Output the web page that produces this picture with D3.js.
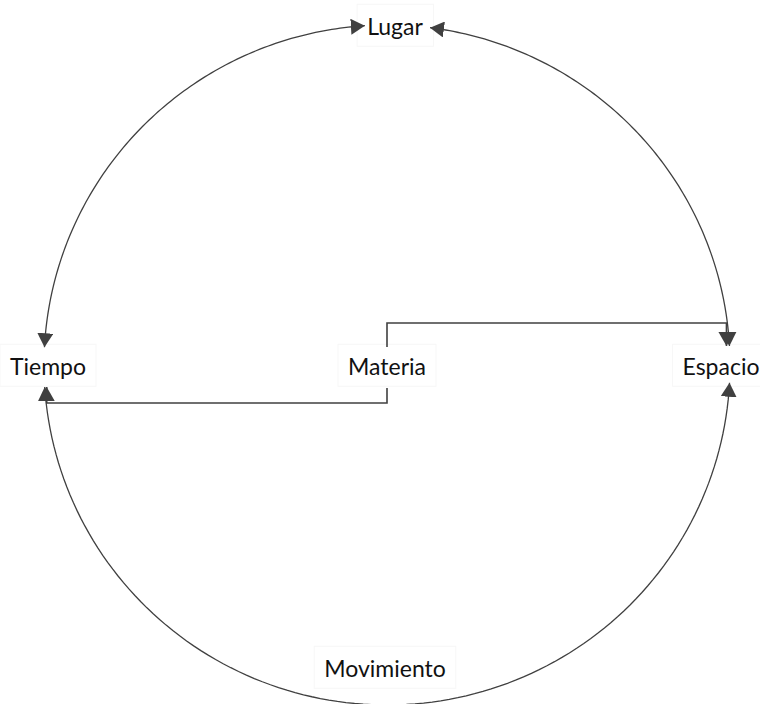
<!DOCTYPE html>
<html>
<head>
<meta charset="utf-8">
<script src="https://cdn.jsdelivr.net/npm/d3@7"></script>
<style>
  body { margin: 0; background: #fff; }
  text { font-family: Lato, "Open Sans", sans-serif; fill: #111; }
</style>
</head>
<body>
<div id="chart"></div>
<script>
// nodes sitting on the ring (angle in degrees, 0 = right, clockwise)
const ringNodes  = ["Espacio", "Movimiento", "Tiempo", "Lugar"];
const ringAngles = [0, 90, 180, 270];
const centerNode = "Materia";

// curved arrows along the ring (double headed), from / to angle in degrees
const arcFrom = [183, 277.2, 176.3];
const arcTo   = [266.3, 356.8, 3.0];

// elbow arrows leaving the centre node
const elbowTargets = ["Espacio", "Tiempo"];

function render(){
  const W = 760, H = 704;
  const svg = d3.select("#chart").append("svg")
      .attr("width", W).attr("height", H);

  // ring scales: unit circle -> page
  const x = d3.scaleLinear().domain([-1, 1]).range([44, 730]);
  const y = d3.scaleLinear().domain([-1, 1]).range([25, 705]);
  const rad = d => d * Math.PI / 180;
  const ringPt = a => [x(Math.cos(rad(a))), y(Math.sin(rad(a)))];

  const ink = "#404040";

  svg.append("defs").append("marker")
      .attr("id", "arrow")
      .attr("viewBox", "0 0 14 16")
      .attr("refX", 14).attr("refY", 8)
      .attr("markerWidth", 14).attr("markerHeight", 16)
      .attr("markerUnits", "userSpaceOnUse")
      .attr("orient", "auto-start-reverse")
    .append("path")
      .attr("d", "M0,0L14,8L0,16Z")
      .attr("fill", ink);

  const line = d3.line();

  // label placement (offset from the ring point)
  const labelShift = {
    "Lugar":      [8, 2],
    "Tiempo":     [4, 2],
    "Espacio":    [-9, 2],
    "Movimiento": [-2, -36]
  };
  const labels = ringNodes.map((n, i) => {
    const p = ringPt(ringAngles[i]);
    return { name: n, x: p[0] + labelShift[n][0], y: p[1] + labelShift[n][1] };
  });
  const cx = x(0), cy = y(0) + 2;
  labels.push({ name: centerNode, x: cx, y: cy });

  // labels with their faint boxes (drawn first so arrows stay on top)
  const lab = svg.append("g")
    .selectAll("g")
    .data(labels)
    .enter().append("g")
      .attr("transform", d => `translate(${d.x},${d.y})`);

  lab.append("text")
      .attr("text-anchor", "middle")
      .attr("dy", "0.36em")
      .attr("font-size", 23)
      .text(d => d.name);

  lab.insert("rect", "text")
      .each(function(){
        const bb = this.parentNode.querySelector("text").getBBox();
        d3.select(this)
          .attr("x", bb.x - 10).attr("y", bb.y - 8)
          .attr("width", bb.width + 20).attr("height", bb.height + 14);
      })
      .attr("fill", "#fff")
      .attr("stroke", "#f7f7f7");

  // ring arcs
  svg.append("g")
    .selectAll("path")
    .data(d3.range(arcFrom.length))
    .enter().append("path")
      .attr("d", i => {
        const a0 = arcFrom[i], a1 = arcTo[i];
        const pts = d3.range(121).map(k => ringPt(a0 + (a1 - a0) * k / 120));
        return line(pts);
      })
      .attr("fill", "none")
      .attr("stroke", ink)
      .attr("stroke-width", 1.3)
      .attr("marker-start", "url(#arrow)")
      .attr("marker-end", "url(#arrow)");

  // elbow connectors from the centre node
  const elbowY = { "Espacio": 323, "Tiempo": 403 };
  const startY = { "Espacio": cy - 20, "Tiempo": cy + 21 };
  svg.append("g")
    .selectAll("path")
    .data(elbowTargets)
    .enter().append("path")
      .attr("d", t => {
        const end = t === "Espacio" ? ringPt(arcTo[1]) : ringPt(arcFrom[2]);
        const ex = t === "Espacio" ? end[0] - 3 : end[0] + 2;
        return line([[cx, startY[t]], [cx, elbowY[t]], [ex, elbowY[t]], [ex, end[1]]]);
      })
      .attr("fill", "none")
      .attr("stroke", ink)
      .attr("stroke-width", 1.6)
      .attr("marker-end", "url(#arrow)");
}

render();
</script>
</body>
</html>
